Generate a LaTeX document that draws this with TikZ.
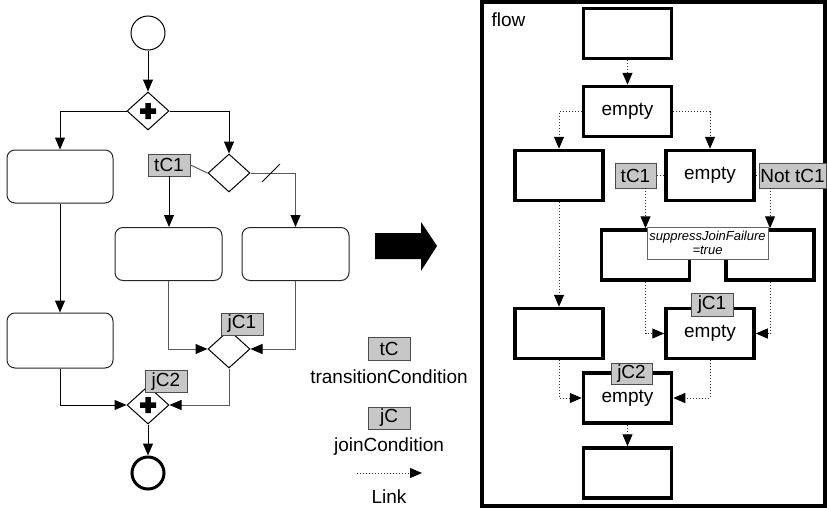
\documentclass[tikz,border=0pt]{standalone}
\usepackage{fontspec}
\setmainfont{Liberation Sans}
\usetikzlibrary{arrows.meta,shapes.geometric}
\begin{document}
\begin{tikzpicture}[x=1pt,y=-1pt,
  every node/.style={font=\fontsize{19}{21}\selectfont},
  tip/.style={-{Triangle[length=12pt,width=10pt,color=black]}},
  flowline/.style={line width=1pt, black},
  greyline/.style={line width=1pt, black!65},
  task/.style={draw=black!85, rounded corners=8pt, line width=1pt, minimum width=106pt, minimum height=53pt, inner sep=0pt},
  gw/.style={draw, diamond, line width=1pt, minimum width=42pt, minimum height=38pt, inner sep=0pt},
  cond/.style={draw=black!70, fill=black!22, line width=0.8pt, inner sep=0pt, minimum height=22pt},
  act/.style={draw, line width=3.5pt, minimum width=88pt, minimum height=50pt, inner sep=0pt},
  link/.style={dotted, line width=1pt, black!80, -{Triangle[length=12pt,width=10pt,color=black]}},
  linkplain/.style={dotted, line width=1pt, black!80},
  plus/.style={fill=black}
]
\useasboundingbox (0,0) rectangle (827,509);

% ---------- process on the left ----------
\node[circle, draw, line width=1pt, minimum size=34pt, inner sep=0pt] (start) at (148,33) {};
\node[gw] (g1) at (148,111) {};
\fill[plus, shift={(g1.center)}] (-8,-2.75) rectangle (8,2.75) (-2.75,-8) rectangle (2.75,8);
\node[gw] (xor) at (229,173) {};

\node[task] (A) at (60,176.5) {};
\node[task, minimum width=107pt] (B) at (168.5,254) {};
\node[task, minimum width=107pt] (C) at (295.5,254) {};
\node[task, minimum height=55pt] (D) at (60,340.5) {};

\node[gw] (j1) at (229,349) {};
\node[gw] (j2) at (148,405) {};
\fill[plus, shift={(j2.center)}] (-8,-2.75) rectangle (8,2.75) (-2.75,-8) rectangle (2.75,8);
\node[circle, draw, line width=3pt, minimum size=32pt, inner sep=0pt] (end) at (148,473) {};

\node[cond, minimum width=42pt] (tc) at (169,165) {tC1};
\node[cond, minimum width=42pt] (jc1) at (242,324) {jC1};
\node[cond, minimum width=42pt] (jc2) at (166,381.5) {jC2};

\draw[flowline, tip] (start.south) -- (g1.north);
\draw[flowline, tip] (g1.west) -| (A.north);
\draw[flowline, tip] (g1.east) -| (xor.north);
\draw[greyline] (xor.west) -- (tc.east);
\draw[flowline, tip] (tc.south) -- (tc.south |- B.north);
\draw[greyline, tip] (xor.east) -| (C.north);
\coordinate (cut) at (271,173);
\draw[flowline] (cut) +(-9,9) -- +(9,-9);
\draw[flowline, tip] (A.south) -- (D.north);
\draw[greyline, tip] (B.south) |- (j1.west);
\draw[greyline, tip] (C.south) |- (j1.east);
\draw[greyline, tip] (j1.south) |- (j2.east);
\draw[flowline, tip] (D.south) |- (j2.west);
\draw[flowline, tip] (j2.south) -- (end.north);

% ---------- legend ----------
\node[cond, minimum width=42pt, minimum height=23pt] (ltc) at (389,348.5) {tC};
\node (ltctext) at (389,377) {transitionCondition};
\node[cond, minimum width=42pt] (ljc) at (389,418) {jC};
\node (ljctext) at (389,447) {joinCondition};
\coordinate (lk1) at (357,473);
\coordinate (lk2) at (422,473);
\draw[link] (lk1) -- (lk2);
\node (lktext) at (389,497) {Link};

% ---------- transformation arrow ----------
\fill (375,233) -- (421,233) -- (421,222) -- (437,246) -- (421,271) -- (421,259) -- (375,259) -- cycle;

% ---------- flow on the right ----------
\draw[line width=3.5pt] (482,2) rectangle (825,506);
\node[anchor=west] (flowlabel) at (488,20) {flow};

\node[act] (r1) at (627.5,33.5) {};
\node[act] (r2) at (627.5,111.5) {empty};
\node[act] (r3) at (559,175.5) {};
\node[act] (r4) at (710,175.5) {empty};
\node[act] (r5) at (645.5,255) {};
\node[act] (r6) at (770,255) {};
\node[act] (r7) at (710,333.5) {\raisebox{-4pt}{empty}};
\node[act] (r8) at (559,333.5) {};
\node[act] (r9) at (627.5,398) {\raisebox{-4pt}{empty}};
\node[act] (r10) at (627.5,473) {};

\node[cond, minimum width=41pt, minimum height=25pt] (tcr) at (635.5,175.5) {tC1};
\node[cond, minimum width=67pt, minimum height=25pt] (ntc) at (792.5,175.5) {Not tC1};
\node[draw=black!60, fill=white, line width=0.8pt, minimum width=121pt, minimum height=32pt, inner sep=0pt, align=center,
      font=\fontsize{13}{14}\selectfont\itshape] (sjf) at (707.5,243) {suppressJoinFailure\\=true};
\node[cond, minimum width=42pt, minimum height=23pt] (jc1r) at (712,304.5) {jC1};
\node[cond, minimum width=41pt, minimum height=21pt] (jc2r) at (631.5,373.5) {jC2};

\draw[link] (r1.south) -- (r2.north);
\draw[link] (r2.west) -| (r3.north);
\draw[link] (r2.east) -| (r4.north);
\draw[linkplain] (r4.west) -- (tcr.east);
\draw[linkplain] (r4.east) -- (ntc.west);
\draw[link] (r5.north |- tcr.south) -- (r5.north);
\draw[link] (r6.north |- ntc.south) -- (r6.north);
\draw[link] (r3.south) -- (r8.north);
\draw[link] (r5.south) |- (r7.west);
\draw[link] (r6.south) |- (r7.east);
\draw[link] (r8.south) |- (r9.west);
\draw[link] (r7.south) |- (r9.east);
\draw[link] (r9.south) -- (r10.north);
\end{tikzpicture}
\end{document}
